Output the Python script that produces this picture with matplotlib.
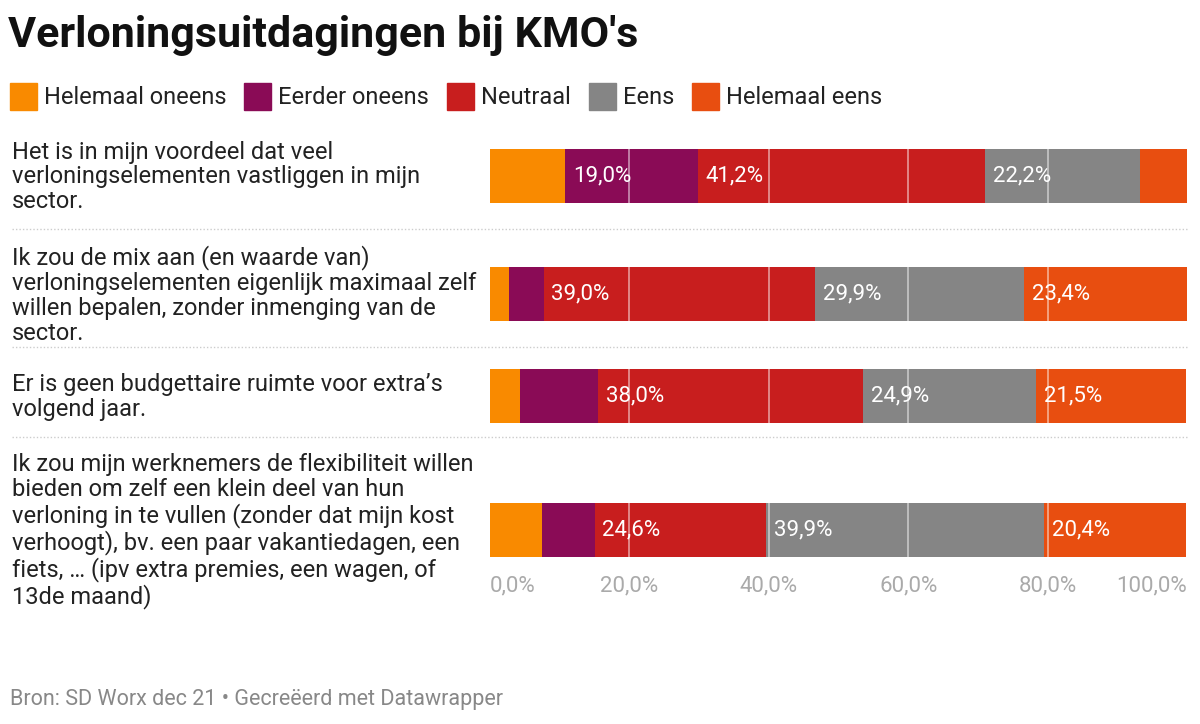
import matplotlib
matplotlib.use("Agg")
import matplotlib.pyplot as plt
from matplotlib.lines import Line2D
from matplotlib.patches import Rectangle

W, H = 1200, 724
DPI = 100

title = "Verloningsuitdagingen bij KMO's"
footer = "Bron: SD Worx dec 21 • Gecreëerd met Datawrapper"

categories = [
    "Het is in mijn voordeel dat veel\nverloningselementen vastliggen in mijn\nsector.",
    "Ik zou de mix aan (en waarde van)\nverloningselementen eigenlijk maximaal zelf\nwillen bepalen, zonder inmenging van de\nsector.",
    "Er is geen budgettaire ruimte voor extra’s\nvolgend jaar.",
    "Ik zou mijn werknemers de flexibiliteit willen\nbieden om zelf een klein deel van hun\nverloning in te vullen (zonder dat mijn kost\nverhoogt), bv. een paar vakantiedagen, een\nfiets, … (ipv extra premies, een wagen, of\n13de maand)",
]
series_names = ["Helemaal oneens", "Eerder oneens", "Neutraal", "Eens", "Helemaal eens"]
helemaal_oneens = [10.8, 2.7, 4.3, 7.4]
eerder_oneens = [19.0, 5.0, 11.2, 7.6]
neutraal = [41.2, 39.0, 38.0, 24.6]
eens = [22.2, 29.9, 24.9, 39.9]
helemaal_eens = [6.8, 23.4, 21.5, 20.4]
series = [helemaal_oneens, eerder_oneens, neutraal, eens, helemaal_eens]
colors = ["#f98a00", "#8a0b56", "#c81e1e", "#858585", "#e84e10"]
xticks = [0, 20, 40, 60, 80, 100]
xticklabels = ["0,0%", "20,0%", "40,0%", "60,0%", "80,0%", "100,0%"]

# layout (pixels)
bar_centers = [176, 294, 396, 530]
separators = [229, 347, 437]
bar_h = 54
ax_left, ax_right = 490, 1187
ax_top, ax_bot = 140, 560

plt.rcParams['font.family'] = ['Roboto', 'DejaVu Sans']
fig = plt.figure(figsize=(W / DPI, H / DPI), dpi=DPI)
fig.patch.set_facecolor("white")

def fx(px):
    return px / W

def fy(py):
    return 1 - py / H

ax = fig.add_axes([fx(ax_left), fy(ax_bot), fx(ax_right - ax_left), (ax_bot - ax_top) / H])
ax.set_xlim(0, 100)
ax.set_ylim(ax_bot, ax_top)

for i, cat in enumerate(categories):
    left = 0
    for s, (vals, col) in enumerate(zip(series, colors)):
        v = vals[i]
        ax.barh(bar_centers[i], v, left=left, height=bar_h, color=col, edgecolor="none", zorder=2)
        if v >= 15:
            ax.text(left + 1.1, bar_centers[i], f"{v:.1f}".replace(".", ",") + "%",
                    color="white", fontsize=16, va="center", ha="left", zorder=4)
        left += v
    fig.text(fx(12), fy(bar_centers[i] + 1), cat, fontsize=17, color="#222222",
             va="center", ha="left", linespacing=1.10)

for g in [20, 40, 60, 80]:
    for c in bar_centers:
        ax.plot([g, g], [c - bar_h / 2, c + bar_h / 2], color="white", alpha=0.55, lw=1.2, zorder=3)

for spine in ax.spines.values():
    spine.set_visible(False)
ax.set_yticks([])
ax.set_xticks(xticks)
ax.set_xticklabels(xticklabels, fontsize=16, color="#aaaaaa")
ax.tick_params(axis="x", length=0, pad=11)
labels = ax.get_xticklabels()
labels[0].set_ha("left")
labels[-1].set_ha("right")
ax.set_facecolor("none")

for sy in separators:
    fig.add_artist(Line2D([fx(12), fx(1187)], [fy(sy), fy(sy)], color="#cccccc",
                          lw=1, linestyle=(0, (1, 1.5))))

fig.text(fx(8), fy(35), title, fontsize=31, fontweight="bold", color="#111111",
         va="center", ha="left")

# legend
renderer = fig.canvas.get_renderer()
x = 10
ly = 97
for name, col in zip(series_names, colors):
    fig.add_artist(Rectangle((fx(x), fy(ly + 13)), fx(27), 27 / H, color=col,
                             transform=fig.transFigure))
    t = fig.text(fx(x + 34), fy(ly), name, fontsize=17, color="#222222", va="center", ha="left")
    bb = t.get_window_extent(renderer=renderer)
    x = bb.x1 + 18

fig.text(fx(10), fy(700), footer, fontsize=15.5, color="#888888", va="center", ha="left")

fig.savefig("out.png", dpi=DPI, facecolor="white")
